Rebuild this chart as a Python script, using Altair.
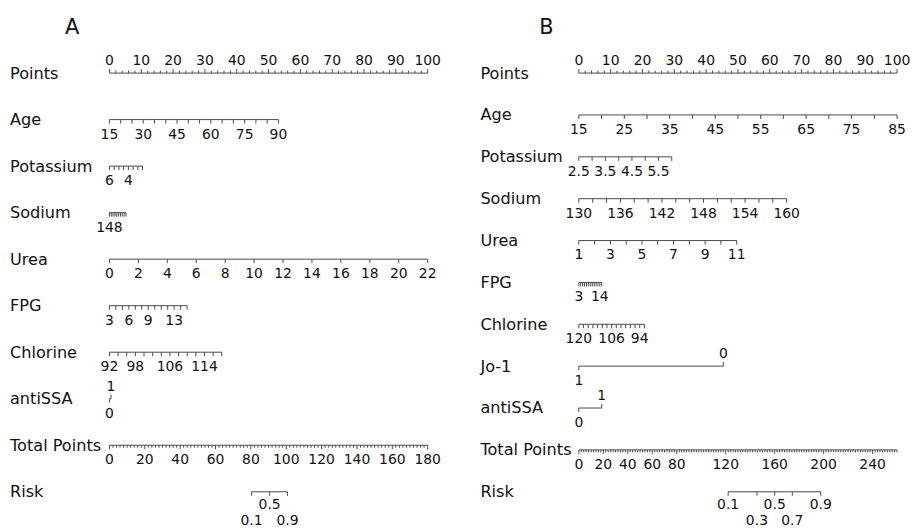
import altair as alt
import pandas as pd

FONT = "DejaVu Sans"
LINE = "#4a4a4a"
TXT = "#111111"

# ---------------- Panel A ----------------
A_names = ["Points", "Age", "Potassium", "Sodium", "Urea", "FPG", "Chlorine",
           "antiSSA", "Total Points", "Risk"]
A_points_ticks = list(range(0, 101, 2))
A_points_labels = list(range(0, 101, 10))
A_age_ticks = list(range(15, 91, 5))
A_age_labels = [15, 30, 45, 60, 75, 90]
A_age_span = [0, 53.1]
A_k_ticks = [6, 5.5, 5, 4.5, 4, 3.5, 3, 2.5]
A_k_labels = [6, 4]
A_k_span = [0, 10.4]
A_na_ticks = [148, 146, 144, 142, 140, 138, 136, 134, 132, 130]
A_na_labels = [148]
A_na_span = [0, 5.2]
A_urea_ticks = list(range(0, 23, 2))
A_urea_labels = list(range(0, 23, 2))
A_urea_span = [0, 100]
A_fpg_ticks = list(range(3, 16))
A_fpg_labels = [3, 6, 9, 13]
A_fpg_span = [0, 24.4]
A_cl_ticks = list(range(92, 119, 2))
A_cl_labels = [92, 98, 106, 114]
A_cl_span = [0, 35.3]
A_ssa_values = ["0", "1"]
A_ssa_points = [0, 0.5]
A_ssa_sides = ["below", "above"]
A_total_ticks = list(range(0, 181, 2))
A_total_labels = list(range(0, 181, 20))
A_total_max = 180
A_risk_values = ["0.1", "0.5", "0.9"]
A_risk_total = [80.4, 90.6, 100.7]
A_risk_sides = ["rbelow2", "rbelow", "rbelow2"]

# ---------------- Panel B ----------------
B_names = ["Points", "Age", "Potassium", "Sodium", "Urea", "FPG", "Chlorine",
           "Jo-1", "antiSSA", "Total Points", "Risk"]
B_points_ticks = list(range(0, 101, 2))
B_points_labels = list(range(0, 101, 10))
B_age_ticks = list(range(15, 86, 5))
B_age_labels = list(range(15, 86, 10))
B_age_span = [0, 100]
B_k_ticks = [2.5, 3, 3.5, 4, 4.5, 5, 5.5, 6]
B_k_labels = [2.5, 3.5, 4.5, 5.5]
B_k_span = [0, 29.2]
B_na_ticks = list(range(130, 161, 2))
B_na_labels = list(range(130, 161, 6))
B_na_span = [0, 65.3]
B_urea_ticks = list(range(1, 12))
B_urea_labels = [1, 3, 5, 7, 9, 11]
B_urea_span = [0, 49.6]
B_fpg_ticks = list(range(3, 16))
B_fpg_labels = [3, 14]
B_fpg_span = [0, 7.2]
B_cl_ticks = list(range(120, 91, -2))
B_cl_labels = [120, 106, 94]
B_cl_span = [0, 20.6]
B_jo_values = ["1", "0"]
B_jo_points = [0, 45.4]
B_jo_sides = ["below", "above"]
B_ssa_values = ["0", "1"]
B_ssa_points = [0, 7.2]
B_ssa_sides = ["below", "above"]
B_total_ticks = list(range(0, 261, 2))
B_total_labels = [0, 20, 40, 60, 80, 120, 160, 200, 240]
B_total_max = 260
B_risk_values = ["0.1", "0.3", "0.5", "0.7", "0.9"]
B_risk_total = [122.0, 145.5, 160.0, 174.4, 197.6]
B_risk_sides = ["rbelow", "rbelow2", "rbelow", "rbelow2", "rbelow"]


def fmt(v):
    return f"{v:g}"


def new():
    return {"seg": [], "tick": [], "lab": []}


def add_cont(out, row, ticks, labels, span, side="below", major=None):
    v0, v1 = ticks[0], ticks[-1]

    def f(v):
        return span[0] + (v - v0) * (span[1] - span[0]) / (v1 - v0)

    out["seg"].append({"row": row, "x": span[0], "x2": span[1]})
    d = "up" if side == "above" else "down"
    for v in ticks:
        kind = d if (major is None or v in major) else d + "_s"
        out["tick"].append({"row": row, "x": f(v), "kind": kind})
    for v in labels:
        out["lab"].append({"row": row, "x": f(v), "text": fmt(v), "side": side})


def add_cat(out, row, values, pts, sides):
    out["seg"].append({"row": row, "x": min(pts), "x2": max(pts)})
    for v, p, s in zip(values, pts, sides):
        out["tick"].append({"row": row, "x": p, "kind": "up" if s == "above" else "down"})
        out["lab"].append({"row": row, "x": p, "text": v, "side": s})


def add_risk(out, row, values, totals, total_max, sides):
    pts = [t * 100.0 / total_max for t in totals]
    out["seg"].append({"row": row, "x": min(pts), "x2": max(pts)})
    for v, p, s in zip(values, pts, sides):
        out["tick"].append({"row": row, "x": p, "kind": "down"})
        out["lab"].append({"row": row, "x": p, "text": v, "side": s})


A = new()
add_cont(A, 0, A_points_ticks, A_points_labels, [0, 100], "above", A_points_labels)
add_cont(A, 1, A_age_ticks, A_age_labels, A_age_span)
add_cont(A, 2, A_k_ticks, A_k_labels, A_k_span)
add_cont(A, 3, A_na_ticks, A_na_labels, A_na_span)
add_cont(A, 4, A_urea_ticks, A_urea_labels, A_urea_span)
add_cont(A, 5, A_fpg_ticks, A_fpg_labels, A_fpg_span)
add_cont(A, 6, A_cl_ticks, A_cl_labels, A_cl_span)
add_cat(A, 7, A_ssa_values, A_ssa_points, A_ssa_sides)
add_cont(A, 8, A_total_ticks, A_total_labels, [0, 100], "below", A_total_labels)
add_risk(A, 9, A_risk_values, A_risk_total, A_total_max, A_risk_sides)

B = new()
add_cont(B, 0, B_points_ticks, B_points_labels, [0, 100], "above", B_points_labels)
add_cont(B, 1, B_age_ticks, B_age_labels, B_age_span)
add_cont(B, 2, B_k_ticks, B_k_labels, B_k_span)
add_cont(B, 3, B_na_ticks, B_na_labels, B_na_span)
add_cont(B, 4, B_urea_ticks, B_urea_labels, B_urea_span)
add_cont(B, 5, B_fpg_ticks, B_fpg_labels, B_fpg_span)
add_cont(B, 6, B_cl_ticks, B_cl_labels, B_cl_span)
add_cat(B, 7, B_jo_values, B_jo_points, B_jo_sides)
add_cat(B, 8, B_ssa_values, B_ssa_points, B_ssa_sides)
add_cont(B, 9, B_total_ticks, B_total_labels, [0, 100], "below", B_total_labels)
add_risk(B, 10, B_risk_values, B_risk_total, B_total_max, B_risk_sides)

SIDE_DY = [("above", -8), ("below", 19), ("rbelow", 17.5), ("rbelow2", 33.5)]


def panel(out, names, letter, letter_dx, name_dx, W=320, H=421):
    n = len(names)
    seg = pd.DataFrame(out["seg"])
    tick = pd.DataFrame(out["tick"])
    tick["row2"] = tick["row"]
    lab = pd.DataFrame(out["lab"])
    nm = pd.DataFrame({"row": list(range(n)), "name": names})
    xs = alt.Scale(domain=[0, 100], nice=False, zero=False)
    ys = alt.Scale(domain=[0, n - 1], reverse=True, nice=False, zero=False)
    x = alt.X("x:Q", scale=xs, axis=None)
    y = alt.Y("row:Q", scale=ys, axis=None)
    layers = [alt.Chart(seg).mark_rule(color=LINE, strokeWidth=1).encode(x=x, x2="x2:Q", y=y)]
    for kind, off in [("down", 4), ("up", -4), ("down_s", 2.5), ("up_s", -2.5)]:
        sub = tick[tick["kind"] == kind]
        if len(sub) == 0:
            continue
        layers.append(alt.Chart(sub).mark_rule(color=LINE, strokeWidth=1, y2Offset=off)
                      .encode(x=x, y=y, y2="row2:Q"))
    for side, dy in SIDE_DY:
        sub = lab[lab["side"] == side]
        if len(sub) == 0:
            continue
        layers.append(alt.Chart(sub).mark_text(font=FONT, fontSize=14, color=TXT, dy=dy,
                                               baseline="alphabetic")
                      .encode(x=x, y=y, text="text:N"))
    layers.append(alt.Chart(nm).mark_text(font=FONT, fontSize=16.2, color=TXT, align="left",
                                          baseline="alphabetic", dy=5.5)
                  .encode(x=alt.value(name_dx), y=y, text="name:N"))
    layers.append(alt.Chart(pd.DataFrame({"t": [letter]}))
                  .mark_text(font=FONT, fontSize=21, color=TXT, baseline="alphabetic")
                  .encode(x=alt.value(letter_dx), y=alt.value(-39), text="t:N"))
    return alt.layer(*layers).properties(width=W, height=H)


pA = panel(A, A_names, "A", -37.5, -100)
pB = panel(B, B_names, "B", -32.5, -99)

chart = (alt.hconcat(pA, pB, spacing=152, bounds="flush")
         .resolve_scale(x="independent", y="independent")
         .properties(padding={"left": 2, "top": 8, "right": 0, "bottom": 0})
         .configure_view(stroke=None))

chart.save("out.html", embed_options={"renderer": "svg", "actions": False})
